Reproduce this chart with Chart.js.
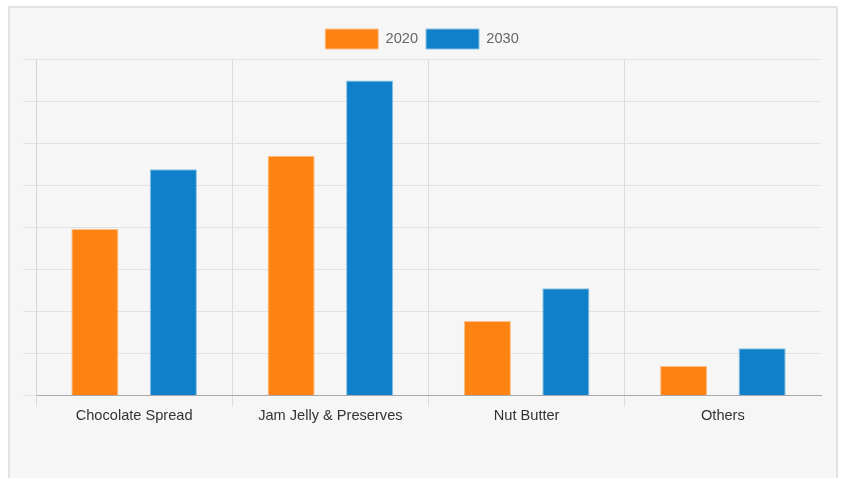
<!DOCTYPE html>
<html>
<head>
<meta charset="utf-8">
<script src="https://cdn.jsdelivr.net/npm/chart.js@4"></script>
<style>
  html, body { margin: 0; padding: 0; background: #fff; }
  #frame {
    position: absolute; left: 8px; top: 6px; width: 830px; height: 480px;
    background: #f6f6f6; border: 2px solid #e3e3e3; box-sizing: border-box;
  }
  #wrap { position: absolute; left: 0; top: 0; width: 842px; height: 478px; }
</style>
</head>
<body>
<div id="frame"></div>
<div id="wrap"><canvas id="chart"></canvas></div>
<script>
(function () {
  'use strict';

  var categories = ['Chocolate Spread', 'Jam Jelly & Preserves', 'Nut Butter', 'Others'];
  var values2020 = [3.96, 5.70, 1.77, 0.70];
  var values2030 = [5.38, 7.49, 2.55, 1.12];

  var FONT = 'Liberation Sans, Arial, sans-serif';

  new Chart(document.getElementById('chart'), {
    type: 'bar',
    data: {
      labels: categories,
      datasets: [{
        label: '2020',
        data: values2020,
        backgroundColor: '#ff8312',
        borderColor: '#fbc08a',
        borderWidth: 1,
        barPercentage: 0.6,
        categoryPercentage: 0.8
      }, {
        label: '2030',
        data: values2030,
        backgroundColor: '#0f80c9',
        borderColor: '#8cc1e4',
        borderWidth: 1,
        barPercentage: 0.6,
        categoryPercentage: 0.8
      }]
    },
    options: {
      responsive: true,
      maintainAspectRatio: false,
      animation: false,
      layout: { padding: { left: 23, right: 21, top: 21, bottom: 52 } },
      plugins: {
        legend: {
          position: 'top',
          labels: {
            boxWidth: 53,
            boxHeight: 20,
            color: '#666',
            padding: 8,
            font: { family: FONT, size: 14.6 }
          }
        },
        tooltip: { enabled: false }
      },
      scales: {
        x: {
          grid: {
            // no line on the right edge of the plot
            color: function (ctx) { return ctx.tick ? '#dcdcdc' : 'rgba(0,0,0,0)'; },
            tickLength: 11
          },
          border: { color: '#a8a8a8' },
          ticks: {
            color: '#333',
            padding: 1,
            font: { family: FONT, size: 14.6 }
          }
        },
        y: {
          min: 0,
          max: 8,
          grid: { color: '#e2e2e2', tickLength: 13 },
          border: { color: '#d6d6d6' },
          ticks: { display: false, stepSize: 1 }
        }
      }
    }
  });
})();
</script>
</body>
</html>
